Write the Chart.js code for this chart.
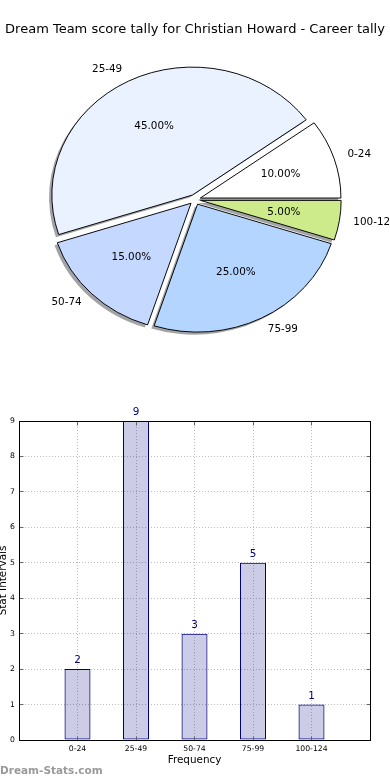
<!DOCTYPE html>
<html><head><meta charset="utf-8">
<script src="https://cdn.jsdelivr.net/npm/chart.js@4.4.1/dist/chart.umd.min.js"></script>
<style>
html,body{margin:0;padding:0;background:#fff;width:390px;height:780px;overflow:hidden;}
#pie{position:absolute;left:0;top:0;}
#bar{position:absolute;left:0;top:380px;}
#wm{position:absolute;left:0;top:763px;font:bold 10.5px "DejaVu Sans";line-height:14px;color:#9a9a9a;white-space:nowrap;}
</style></head><body>
<canvas id="pie" width="390" height="390"></canvas>
<canvas id="bar" width="390" height="400"></canvas>
<div id="wm"></div>
<script>
// ---- data ----
const chartTitle = 'Dream Team score tally for Christian Howard - Career tally';
const categories = ['0-24', '25-49', '50-74', '75-99', '100-124'];
const counts = [2, 9, 3, 5, 1];
const pieColors = ['#ffffff', '#eaf1ff', '#c5d8ff', '#b4d5ff', '#cdeb8b'];
const yTickMax = 9;
const xAxisTitle = 'Frequency';
const yAxisTitle = 'Stat Intervals';
const watermarkText = 'Dream-Stats.com';

document.getElementById('wm').textContent = watermarkText;
Chart.defaults.font.family = '"DejaVu Sans", sans-serif';
Chart.defaults.color = '#000';

// ---- pie (matplotlib style: CCW from east, exploded, shadowed, elliptical) ----
const EXPLODE = 0.04, SQUASH = 0.91, SHADOW = 0.02, LABEL_DIST = 1.1, PCT_DIST = 0.6;
const total = counts.reduce((s, v) => s + v, 0);
// Chart.js draws clockwise; reverse order so slices run counter-clockwise from 3 o'clock
const pieLabels = categories.slice().reverse();
const pieValues = counts.slice().reverse();
const pieBg = pieColors.slice().reverse();

const piePlugin = {
  id: 'mplPie',
  beforeDatasetsDraw(chart) {
    const ctx = chart.ctx;
    const arcs = chart.getDatasetMeta(0).data;
    const cx = arcs[0].x, cy = arcs[0].y;
    ctx.save();
    ctx.translate(cx, cy); ctx.scale(1, SQUASH); ctx.translate(-cx, -cy);
    arcs.forEach(a => {
      if (!a._mplWrapped) {
        const orig = a.draw;
        a.draw = function (c) {
          const m = (this.startAngle + this.endAngle) / 2, d = EXPLODE * this.outerRadius;
          c.save(); c.translate(Math.cos(m) * d, Math.sin(m) * d);
          orig.call(this, c);
          c.restore();
        };
        a._mplWrapped = true;
      }
    });
    arcs.forEach(a => {
      const m = (a.startAngle + a.endAngle) / 2, R = a.outerRadius, d = EXPLODE * R;
      const x = a.x + Math.cos(m) * d - SHADOW * R, y = a.y + Math.sin(m) * d + SHADOW * R;
      ctx.beginPath(); ctx.moveTo(x, y); ctx.arc(x, y, R, a.startAngle, a.endAngle); ctx.closePath();
      ctx.fillStyle = 'rgba(70,72,77,0.5)'; ctx.fill();
    });
  },
  afterDatasetsDraw(chart) {
    const ctx = chart.ctx;
    ctx.restore();
    const arcs = chart.getDatasetMeta(0).data;
    ctx.save();
    ctx.fillStyle = '#000';
    ctx.font = '10.4px "DejaVu Sans"';
    ctx.textBaseline = 'middle';
    arcs.forEach((a, i) => {
      const m = (a.startAngle + a.endAngle) / 2, R = a.outerRadius;
      const c = Math.cos(m), s = Math.sin(m);
      const lx = a.x + (EXPLODE + LABEL_DIST) * R * c, ly = a.y + (EXPLODE + LABEL_DIST) * R * SQUASH * s;
      ctx.textAlign = c > 0 ? 'left' : 'right';
      ctx.fillText(chart.data.labels[i], lx, ly);
      const px = a.x + (EXPLODE + PCT_DIST) * R * c, py = a.y + (EXPLODE + PCT_DIST) * R * SQUASH * s;
      ctx.textAlign = 'center';
      const v = chart.data.datasets[0].data[i];
      ctx.fillText((v / total * 100).toFixed(2) + '%', px, py);
    });
    ctx.restore();
  }
};

new Chart(document.getElementById('pie'), {
  type: 'pie',
  data: { labels: pieLabels, datasets: [{ data: pieValues, backgroundColor: pieBg, borderColor: '#000', borderWidth: 1, clip: false }] },
  options: {
    responsive: false, animation: false, events: [],
    rotation: 90, radius: 140.6,
    layout: { padding: { top: 0, left: 0, right: 0, bottom: 40.6 } },
    plugins: {
      legend: { display: false }, tooltip: { enabled: false },
      title: { display: true, text: chartTitle, color: '#000', font: { size: 13, weight: 'normal' }, padding: { top: 22.2, bottom: 12 } }
    }
  },
  plugins: [piePlugin]
});

// ---- bar chart ----
const barPlugin = {
  id: 'mplBox',
  afterDatasetsDraw(chart) {
    const { ctx, chartArea: a, scales: { x, y } } = chart;
    const L = Math.floor(a.left) + 0.5, R = Math.floor(a.right) + 0.5, T = Math.floor(a.top) + 0.5, B = Math.floor(a.bottom) + 0.5;
    ctx.save();
    ctx.lineWidth = 1; ctx.strokeStyle = '#666';
    const line = (x1, y1, x2, y2) => { ctx.beginPath(); ctx.moveTo(x1, y1); ctx.lineTo(x2, y2); ctx.stroke(); };
    y.ticks.forEach(t => { const py = Math.floor(y.getPixelForValue(t.value)) + 0.5; line(L, py, L + 4, py); line(R - 4, py, R, py); });
    categories.forEach((c, i) => { const px = Math.floor(x.getPixelForValue(i + 1)) + 0.5; line(px, B, px, B - 4); line(px, T, px, T + 4); });
    ctx.strokeStyle = '#000';
    ctx.strokeRect(L, T, R - L, B - T);
    ctx.fillStyle = '#000080';
    ctx.font = '10.4px "DejaVu Sans"';
    ctx.textAlign = 'center'; ctx.textBaseline = 'middle';
    chart.getDatasetMeta(0).data.forEach((bar, i) => ctx.fillText(String(counts[i]), bar.x, bar.y - 8.5));
    ctx.restore();
  }
};

new Chart(document.getElementById('bar'), {
  type: 'bar',
  data: { datasets: [{ data: categories.map((c, i) => ({ x: i + 1, y: counts[i] })), backgroundColor: 'rgba(0,0,128,0.2)', borderColor: '#000080', borderWidth: 1, borderSkipped: false, inflateAmount: 0, categoryPercentage: 1, barPercentage: 0.4444 }] },
  options: {
    responsive: false, animation: false, events: [],
    layout: { padding: { top: 41, left: 0, right: 20, bottom: 0 } },
    plugins: { legend: { display: false }, tooltip: { enabled: false } },
    scales: {
      x: {
        type: 'linear', min: 0, max: categories.length + 1, offset: false,
        grid: { offset: false, color: '#bdbdbd', drawTicks: false },
        border: { display: false, dash: [1, 2] },
        ticks: { stepSize: 1, autoSkip: false, maxRotation: 0, padding: 4, font: { size: 7.7 }, color: '#000',
          callback: v => (Number.isInteger(v) && v >= 1 && v <= categories.length) ? categories[v - 1] : '' },
        title: { display: true, text: xAxisTitle, color: '#000', font: { size: 10.4 }, padding: { top: 0, bottom: 13.8 } },
        afterFit: s => { s.height = 40; }
      },
      y: {
        min: 0, max: yTickMax,
        grid: { color: '#bdbdbd', drawTicks: false },
        border: { display: false, dash: [1, 2] },
        ticks: { stepSize: 1, padding: 4, font: { size: 7.7 }, color: '#000' },
        title: { display: true, text: yAxisTitle, color: '#000', font: { size: 10.4 }, padding: { top: -2.7, bottom: 0 } },
        afterFit: s => { s.width = 19; }
      }
    }
  },
  plugins: [barPlugin]
});
</script>
</body></html>
